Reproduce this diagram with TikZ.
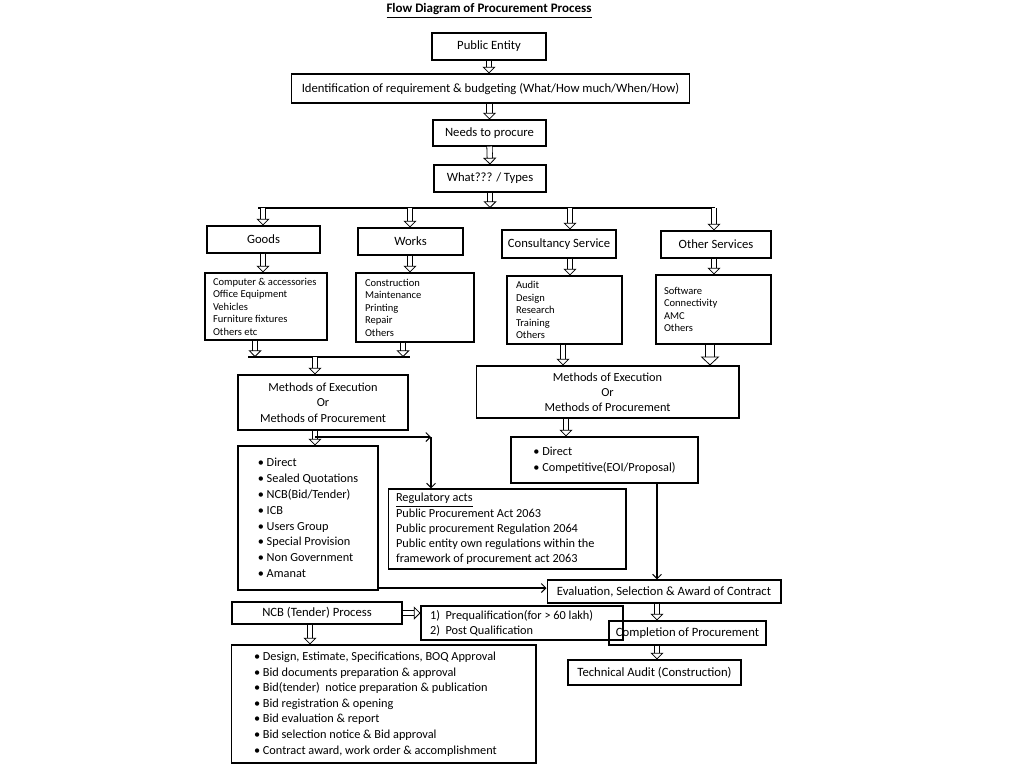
\documentclass[tikz,border=0pt]{standalone}
\usepackage{fontspec}
\setmainfont{Carlito}
\usetikzlibrary{arrows.meta}

\begin{document}
\begin{tikzpicture}[x=0.02cm, y=-0.02cm,
    box/.style={draw, line width=0.6pt, inner sep=1pt, font=\fontsize{7.2}{8.8}\selectfont},
    lst/.style={box, align=flush left},
    tiny/.style={font=\fontsize{6}{7.1}\selectfont},
    hol/.style={double, double distance=2.6pt, line width=0.45pt, -{Triangle[open, length=3.8pt, width=7.5pt]}},
    holw/.style={hol, double distance=4.4pt, -{Triangle[open, length=5pt, width=10.5pt]}},
    arr/.style={line width=0.6pt, -{Straight Barb[length=2.5pt, width=5pt]}},
    bus/.style={line width=0.8pt}]
  \useasboundingbox (0,0) rectangle (1024,768);
  \node[font=\fontsize{7.4}{9}\selectfont\bfseries] (title) at (489,11) {\underline{Flow Diagram of Procurement Process}};
  \node[box, minimum width=2.28cm, minimum height=0.54cm] (pe) at (489,46.5) {Public Entity};
  \node[box, minimum width=7.98cm, minimum height=0.58cm] (ident) at (490.5,88.5) {Identification of requirement \& budgeting (What/How much/When/How)};
  \node[box, minimum width=2.26cm, minimum height=0.52cm] (needs) at (489.5,133) {Needs to procure};
  \node[box, minimum width=2.24cm, minimum height=0.54cm] (types) at (490,178.5) {What??? / Types};

  \node[box, minimum width=2.26cm, minimum height=0.54cm] (goods) at (263.5,239.5) {Goods};
  \node[box, minimum width=2.10cm, minimum height=0.54cm] (works) at (410.5,241.5) {Works};
  \node[box, minimum width=2.28cm, minimum height=0.56cm] (consult) at (559,244) {Consultancy Service};
  \node[box, minimum width=2.20cm, minimum height=0.54cm] (other) at (716,244.5) {Other Services};

  \node[lst, tiny, inner xsep=0.16cm, text width=2.12cm, minimum height=1.34cm] (goodsl) at (266,306.5)
    {Computer \& accessories\\Office Equipment\\Vehicles\\Furniture fixtures\\Others etc};
  \node[lst, tiny, inner xsep=0.18cm, text width=2.0cm, minimum height=1.38cm] (worksl) at (415,307.5)
    {Construction\\Maintenance\\Printing\\Repair\\Others};
  \node[lst, tiny, inner xsep=0.18cm, text width=1.94cm, minimum height=1.36cm] (consl) at (564.5,310)
    {Audit\\Design\\Research\\Training\\Others};
  \node[lst, tiny, inner xsep=0.16cm, text width=1.98cm, minimum height=1.38cm] (otherl) at (713.5,309.5)
    {Software\\Connectivity\\AMC\\Others};

  \node[box, align=center, font=\fontsize{7}{8.8}\selectfont, minimum width=3.40cm, minimum height=1.10cm] (methl) at (323,402.5)
    {Methods of Execution\\Or\\Methods of Procurement};
  \node[box, align=center, font=\fontsize{7}{8.5}\selectfont, minimum width=5.26cm, minimum height=1.04cm] (methr) at (607.5,392)
    {Methods of Execution\\Or\\Methods of Procurement};

  \node[lst, font=\fontsize{7}{9}\selectfont, minimum width=2.80cm, minimum height=2.88cm] (listl) at (308,518)
    {\textbullet~Direct\\\textbullet~Sealed Quotations\\\textbullet~NCB(Bid/Tender)\\\textbullet~ICB\\\textbullet~Users Group\\\textbullet~Special Provision\\\textbullet~Non Government\\\textbullet~Amanat};
  \node[lst, font=\fontsize{7}{8.7}\selectfont, inner xsep=0.16cm, text width=4.44cm, minimum height=1.60cm] (regact) at (507,529)
    {\underline{Regulatory acts}\\Public Procurement Act 2063\\Public procurement Regulation 2064\\Public entity own regulations within the\\framework of procurement act 2063};
  \node[lst, font=\fontsize{7}{9}\selectfont, minimum width=3.74cm, minimum height=0.92cm] (listr) at (604.5,460)
    {\textbullet~Direct\\\textbullet~Competitive(EOI/Proposal)};

  \node[box, minimum width=4.68cm, minimum height=0.46cm] (eval) at (664,591.5) {Evaluation, Selection \& Award of Contract};
  \node[box, minimum width=3.40cm, minimum height=0.44cm] (ncb) at (317,613) {NCB (Tender) Process};
  \node[lst, font=\fontsize{7}{8.5}\selectfont, inner xsep=0.18cm, text width=3.68cm, minimum height=0.68cm] (qual) at (522,623)
    {1)~~Prequalification(for > 60 lakh)\\2)~~Post Qualification};
  \node[box, minimum width=3.14cm, minimum height=0.48cm] (compl) at (687.5,633) {Completion of Procurement};
  \node[box, minimum width=3.46cm, minimum height=0.50cm] (tech) at (654.5,672.5) {Technical Audit (Construction)};
  \node[lst, font=\fontsize{7}{8.9}\selectfont, inner xsep=0.46cm, text width=5.18cm, minimum height=2.36cm] (bidl) at (383.5,704)
    {\textbullet~Design, Estimate, Specifications, BOQ Approval\\\textbullet~Bid documents preparation \& approval\\\textbullet~Bid(tender)~ notice preparation \& publication\\\textbullet~Bid registration \& opening\\\textbullet~Bid evaluation \& report\\\textbullet~Bid selection notice \& Bid approval\\\textbullet~Contract award, work order \& accomplishment};

  \coordinate (busl) at (258,208);
  \coordinate (busr) at (715,208);
  \coordinate (c1) at (263,208);
  \coordinate (c2) at (410,208);
  \coordinate (c3) at (570,208);
  \coordinate (c4) at (714,208);
  \coordinate (b2l) at (248,357);
  \coordinate (b2r) at (410,357);
  \coordinate (d1) at (255,357);
  \coordinate (d2) at (403,357);
  \coordinate (d3) at (315,357);
  \coordinate (e1) at (563,0);
  \coordinate (e2) at (710,0);
  \coordinate (e3) at (566,0);
  \coordinate (e4) at (657,0);
  \coordinate (f) at (431,437);
  \coordinate (g) at (0,588);
  \coordinate (h1) at (310,0);

  \draw[hol] (pe.south) -- (pe.south |- ident.north);
  \draw[hol] (needs.north |- ident.south) -- (needs.north);
  \draw[hol] (needs.south) -- (types.north);
  \draw[hol] (types.south) -- (types.south |- busl);
  \draw[bus] (busl) -- (busr);
  \draw[hol] (c1) -- (c1 |- goods.north);
  \draw[hol] (c2) -- (c2 |- works.north);
  \draw[hol] (c3) -- (c3 |- consult.north);
  \draw[hol] (c4) -- (c4 |- other.north);
  \draw[hol] (c1 |- goods.south) -- (c1 |- goodsl.north);
  \draw[hol] (c2 |- works.south) -- (c2 |- worksl.north);
  \draw[hol] (c3 |- consult.south) -- (c3 |- consl.north);
  \draw[hol] (c4 |- other.south) -- (c4 |- otherl.north);

  \draw[hol] (d1 |- goodsl.south) -- (d1);
  \draw[hol] (d2 |- worksl.south) -- (d2);
  \draw[bus] (b2l) -- (b2r);
  \draw[hol] (d3) -- (d3 |- methl.north);
  \draw[hol] (e1 |- consl.south) -- (e1 |- methr.north);
  \draw[holw] (e2 |- otherl.south) -- (e2 |- methr.north);

  \draw[hol] (d3 |- methl.south) -- (d3 |- listl.north);
  \draw[arr] (d3 |- f) -- (f);
  \draw[arr] (f) -- (f |- regact.north);
  \draw[hol] (e3 |- methr.south) -- (e3 |- listr.north);
  \draw[arr] (e4 |- listr.south) -- (e4 |- eval.north);
  \draw[arr] (listl.east |- g) -- (eval.west |- g);

  \draw[hol] (ncb.east) -- (qual.west |- ncb.east);
  \draw[hol] (h1 |- ncb.south) -- (h1 |- bidl.north);
  \draw[hol] (e4 |- eval.south) -- (e4 |- compl.north);
  \draw[hol] (e4 |- compl.south) -- (e4 |- tech.north);
\end{tikzpicture}
\end{document}
